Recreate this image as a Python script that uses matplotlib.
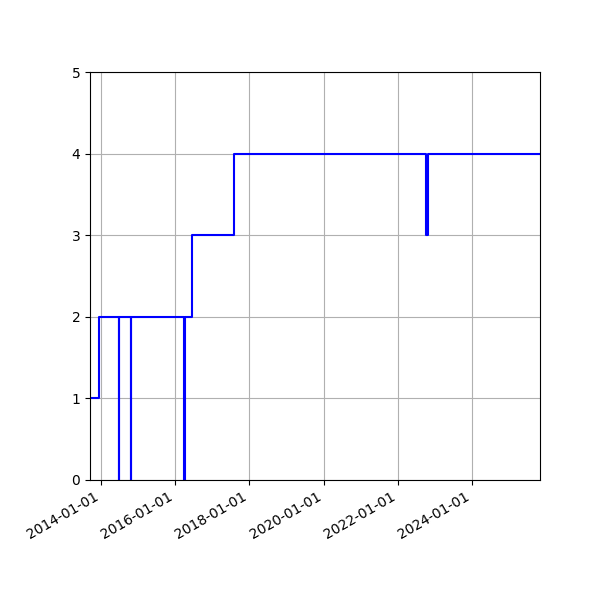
import numpy as np
import matplotlib
matplotlib.use('Agg')
import matplotlib.pyplot as plt
import matplotlib.dates as mdates

dates = ['2013-09-15', '2013-12-12',
         '2014-06-26', '2014-06-27',
         '2014-10-21', '2014-10-22',
         '2016-03-28', '2016-04-03',
         '2016-06-18', '2017-08-02',
         '2022-10-08', '2022-10-21',
         '2025-11-01']
values = [1, 2,
          0, 2,
          0, 2,
          0, 2,
          3, 4,
          3, 4,
          4]

t = np.array(dates, dtype='datetime64[D]')

fig = plt.figure(figsize=(6, 6), dpi=100)
ax = fig.add_subplot(111)
ax.plot(t, values, color='blue', drawstyle='steps-post', linewidth=1.5)
ax.set_ylim(0, 5)
ax.set_xlim(t[0], t[-1])
ax.xaxis.set_major_locator(mdates.YearLocator(2))
ax.xaxis.set_major_formatter(mdates.DateFormatter('%Y-%m-%d'))
ax.grid(True)
fig.autofmt_xdate()
fig.subplots_adjust(left=0.15, right=0.9, top=0.88, bottom=0.2)
fig.savefig('out.png')
